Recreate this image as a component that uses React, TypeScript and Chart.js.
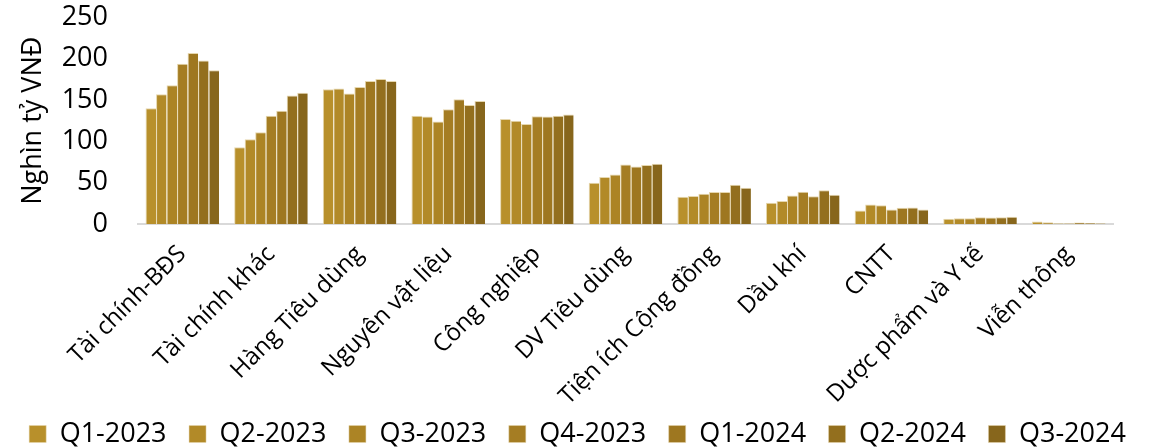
import React, { useEffect, useRef } from "react";
import { Chart, registerables } from "chart.js";

Chart.register(...registerables);

const categories = [
  "Tài chính-BĐS",
  "Tài chính khác",
  "Hàng Tiêu dùng",
  "Nguyên vật liệu",
  "Công nghiệp",
  "DV Tiêu dùng",
  "Tiện ích Cộng đồng",
  "Dầu khí",
  "CNTT",
  "Dược phẩm và Y tế",
  "Viễn thông",
];

const seriesNames = ["Q1-2023", "Q2-2023", "Q3-2023", "Q4-2023", "Q1-2024", "Q2-2024", "Q3-2024"];

const q1_2023 = [140, 93, 163, 131, 127, 50, 33, 25.7, 16.4, 6.5, 3];
const q2_2023 = [157, 102.5, 164, 130, 125, 57, 34, 27.7, 23.7, 7, 2];
const q3_2023 = [168, 111, 158, 124, 121, 60, 36.5, 34.6, 22.8, 7, 0.8];
const q4_2023 = [194, 131, 166, 139, 130.5, 72, 38.6, 39, 17.6, 8.3, 0.8];
const q1_2024 = [207, 137, 173, 151, 130, 69.5, 38.6, 33.7, 19.7, 8, 1.8];
const q2_2024 = [198, 155.5, 175.5, 144, 131, 71.5, 47.6, 41, 20, 8.3, 1.2];
const q3_2024 = [186, 159, 173, 149, 132.5, 73, 44, 35.4, 17.6, 8.8, 0.8];

const seriesValues = [q1_2023, q2_2023, q3_2023, q4_2023, q1_2024, q2_2024, q3_2024];

const colors = ["#B8902B", "#B28A28", "#AC8425", "#A57D23", "#9E7720", "#936F1E", "#87661C"];

const yTicks = [0, 50, 100, 150, 200, 250];

const FONT = "'Open Sans', 'Noto Sans', sans-serif";
const SIDE = -30;

const extendLabelClip = {
  id: "extendLabelClip",
  afterLayout(chart: any) {
    const x = chart.scales.x;
    if (x) x.bottom = chart.height;
  },
};

export default function App() {
  const ref = useRef<HTMLCanvasElement | null>(null);

  useEffect(() => {
    if (!ref.current) return;
    const chart = new Chart(ref.current, {
      type: "bar",
      data: {
        labels: categories,
        datasets: seriesNames.map((name, i) => ({
          label: name,
          data: seriesValues[i],
          backgroundColor: colors[i],
          borderColor: "#E6D7AE",
          borderWidth: { top: 1, left: 1, right: 0, bottom: 0 },
          borderSkipped: false,
          barPercentage: 1,
          categoryPercentage: 0.83,
          yAxisID: "y",
        })),
      },
      plugins: [extendLabelClip],
      options: {
        responsive: false,
        animation: false,
        devicePixelRatio: 1,
        layout: { padding: { left: SIDE, right: SIDE, top: 17.5, bottom: -9.5 } },
        plugins: {
          tooltip: { enabled: false },
          legend: {
            position: "bottom",
            labels: {
              boxWidth: 17,
              boxHeight: 17,
              padding: 22.5,
              color: "#000",
              font: { family: FONT, size: 27 },
            },
          },
        },
        scales: {
          x: {
            afterFit: (scale: any) => {
              scale.height = 174;
            },
            grid: { display: false, drawTicks: false },
            border: { display: true, color: "#D9D9D9", width: 2 },
            ticks: {
              color: "#000",
              font: { family: FONT, size: 24 },
              maxRotation: 45,
              minRotation: 45,
              padding: 16,
              labelOffset: 0,
              autoSkip: false,
            },
          },
          y: {
            position: "left",
            min: 0,
            max: 250,
            afterFit: (scale: any) => {
              scale.width = 138 - SIDE;
              scale.paddingTop = 0;
              scale.paddingBottom = 0;
            },
            afterBuildTicks: (scale: any) => {
              scale.ticks = yTicks.map((v) => ({ value: v }));
            },
            grid: { display: false, drawTicks: false },
            border: { display: false },
            ticks: {
              color: "#000",
              font: { family: FONT, size: 27 },
              padding: 30,
            },
            title: {
              display: true,
              text: "Nghìn tỷ VNĐ",
              color: "#000",
              font: { family: FONT, size: 27 },
              padding: { top: 17 - SIDE, bottom: 0 },
            },
          },
          yRight: {
            type: "linear",
            position: "right",
            display: true,
            min: 0,
            max: 250,
            afterFit: (scale: any) => {
              scale.width = 42 - SIDE;
              scale.paddingTop = 0;
              scale.paddingBottom = 0;
            },
            grid: { display: false, drawTicks: false },
            border: { display: false },
            ticks: { display: false },
          },
        },
      },
    });
    return () => chart.destroy();
  }, []);

  return (
    <div style={{ position: "absolute", left: 0, top: 0, width: 1155, height: 448, background: "#fff" }}>
      <canvas ref={ref} width={1155} height={448} />
    </div>
  );
}
